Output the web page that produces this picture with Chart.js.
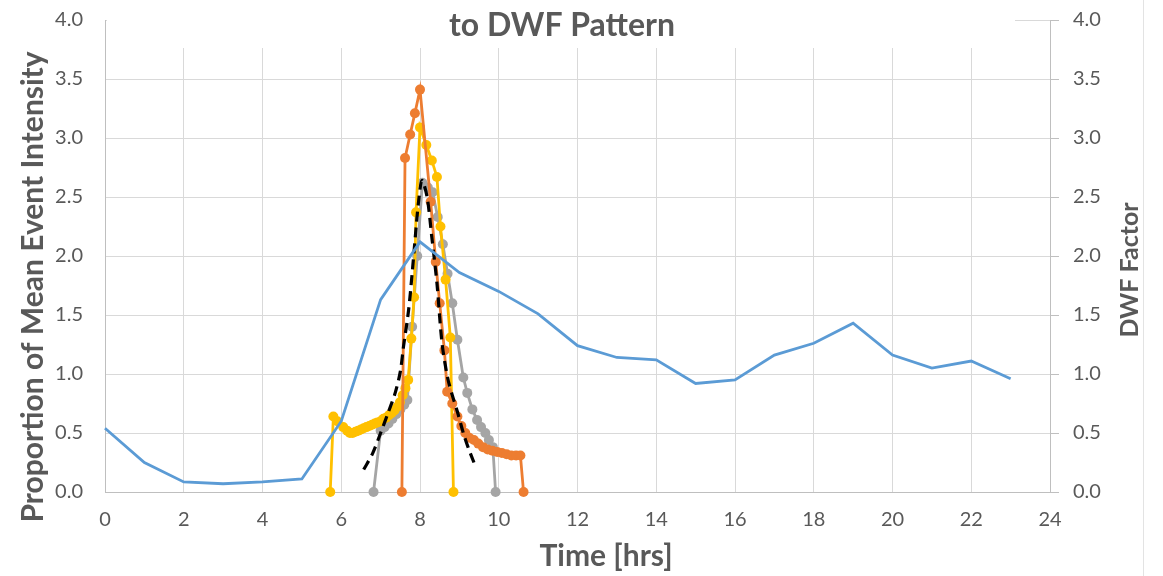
<!DOCTYPE html>
<html>
<head>
<meta charset="utf-8">
<script src="https://cdn.jsdelivr.net/npm/chart.js@4.4.1/dist/chart.umd.min.js"></script>
<style>
  html, body { margin: 0; padding: 0; background: #ffffff; }
  #wrap { width: 1163px; height: 576px; }
</style>
</head>
<body>
<div id="wrap"><canvas id="c" width="1163" height="576"></canvas></div>
<script>
// ---------- data ----------
const chartTitle = 'to DWF Pattern';
const xTitle = 'Time [hrs]';
const yLeftTitle = 'Proportion of Mean Event Intensity';
const yRightTitle = 'DWF Factor';

// DWF factor (right axis), hourly
const dwfHours  = [0, 1, 2, 3, 4, 5, 6, 7, 8, 9, 10, 11, 12, 13, 14, 15, 16, 17, 18, 19, 20, 21, 22, 23];
const dwfFactor = [0.54, 0.25, 0.085, 0.07, 0.085, 0.11, 0.60, 1.63, 2.12, 1.86, 1.70, 1.51, 1.24, 1.14, 1.12, 0.92, 0.95, 1.16, 1.26, 1.43, 1.16, 1.05, 1.11, 0.96];

// event 1 (orange)
const ev1Time  = [7.54, 7.62, 7.75, 7.87, 8.00, 8.27, 8.40, 8.50, 8.62, 8.69, 8.82, 8.95, 9.05, 9.15, 9.25, 9.37, 9.48, 9.60, 9.72, 9.84, 9.96, 10.08, 10.20, 10.32, 10.44, 10.55, 10.63];
const ev1Value = [0.00, 2.83, 3.03, 3.21, 3.41, 2.46, 1.95, 1.60, 1.20, 0.85, 0.75, 0.64, 0.56, 0.50, 0.46, 0.44, 0.41, 0.38, 0.36, 0.35, 0.34, 0.33, 0.32, 0.31, 0.31, 0.31, 0.00];

// event 2 (yellow)
const ev2Time  = [5.72, 5.80, 5.90, 6.05, 6.15, 6.22, 6.29, 6.36, 6.43, 6.50, 6.57, 6.64, 6.71, 6.78, 6.85, 6.92, 7.00, 7.07, 7.14, 7.21, 7.28, 7.35, 7.42, 7.49, 7.56, 7.63, 7.70, 7.78, 7.85, 7.90, 8.00, 8.16, 8.30, 8.43, 8.52, 8.65, 8.77, 8.85];
const ev2Value = [0.00, 0.64, 0.60, 0.55, 0.52, 0.50, 0.50, 0.51, 0.52, 0.53, 0.54, 0.55, 0.56, 0.57, 0.58, 0.59, 0.60, 0.62, 0.63, 0.65, 0.67, 0.69, 0.72, 0.76, 0.82, 0.88, 0.95, 1.30, 1.65, 2.37, 3.09, 2.94, 2.81, 2.67, 2.25, 1.80, 1.31, 0.00];

// event 3 (grey)
const ev3Time  = [6.82, 7.00, 7.10, 7.20, 7.30, 7.40, 7.50, 7.60, 7.68, 7.80, 7.93, 8.06, 8.20, 8.32, 8.45, 8.58, 8.70, 8.82, 8.95, 9.10, 9.20, 9.33, 9.45, 9.55, 9.66, 9.75, 9.85, 9.92];
const ev3Value = [0.00, 0.52, 0.55, 0.58, 0.62, 0.66, 0.70, 0.74, 0.78, 1.40, 2.00, 2.62, 2.58, 2.54, 2.33, 2.10, 1.85, 1.60, 1.29, 0.97, 0.84, 0.70, 0.61, 0.55, 0.50, 0.44, 0.38, 0.00];

// fitted profile (dashed)
const fitTime  = [6.57, 6.80, 7.00, 7.20, 7.37, 7.50, 7.58, 7.71, 7.80, 7.88, 7.96, 8.05, 8.18, 8.30, 8.43, 8.56, 8.70, 8.82, 8.95, 9.10, 9.22, 9.37];
const fitValue = [0.19, 0.33, 0.50, 0.68, 0.84, 1.02, 1.23, 1.54, 1.85, 2.16, 2.45, 2.64, 2.50, 2.16, 1.77, 1.26, 0.97, 0.82, 0.68, 0.50, 0.38, 0.25];

// axes
const xTicks = [0, 2, 4, 6, 8, 10, 12, 14, 16, 18, 20, 22, 24];
const yTicks = [0.0, 0.5, 1.0, 1.5, 2.0, 2.5, 3.0, 3.5, 4.0];

// ---------- chart ----------
const pts = (ts, vs) => ts.map((t, i) => ({ x: t, y: vs[i] }));
const TEXT = '#595959';
const GRID = '#D9D9D9';
const AXIS = '#BFBFBF';

const decorations = {
  id: 'decorations',
  beforeDraw(chart) {
    const ctx = chart.ctx;
    ctx.save();
    ctx.fillStyle = '#ffffff';
    ctx.fillRect(0, 0, chart.width, chart.height);
    ctx.restore();
  },
  beforeDatasetsDraw(chart) {
    const ctx = chart.ctx;
    ctx.save();
    // title box (covers top gridline, as in the original)
    ctx.fillStyle = '#ffffff';
    ctx.fillRect(107, 0, 1015 - 107, 48);
    ctx.fillStyle = TEXT;
    ctx.font = 'bold 32px Lato';
    ctx.textAlign = 'center';
    ctx.textBaseline = 'alphabetic';
    ctx.fillText(chartTitle, 562, 36);
    ctx.restore();
  },
  afterDraw(chart) {
    const ctx = chart.ctx;
    ctx.save();
    ctx.fillStyle = TEXT;
    ctx.font = 'bold 30px Lato';
    ctx.textAlign = 'center';
    ctx.textBaseline = 'alphabetic';
    ctx.fillText(xTitle, 606, 566);

    ctx.save();
    ctx.translate(43, 287);
    ctx.rotate(-Math.PI / 2);
    ctx.fillText(yLeftTitle, 0, 0);
    ctx.restore();

    ctx.save();
    ctx.font = 'bold 25px Lato';
    ctx.translate(1138, 270);
    ctx.rotate(-Math.PI / 2);
    ctx.fillText(yRightTitle, 0, 0);
    ctx.restore();

    // outer chart border on the right
    ctx.strokeStyle = '#E3E3E3';
    ctx.lineWidth = 1;
    ctx.beginPath();
    ctx.moveTo(1143.5, 0);
    ctx.lineTo(1143.5, 576);
    ctx.stroke();
    ctx.restore();
  }
};

const markerSeries = (label, ts, vs, color) => ({
  label,
  data: pts(ts, vs),
  yAxisID: 'y',
  showLine: true,
  borderColor: color,
  backgroundColor: color,
  borderWidth: 2.8,
  pointRadius: 5,
  pointBorderWidth: 0,
  pointBackgroundColor: color,
  tension: 0,
  clip: false
});

new Chart(document.getElementById('c'), {
  type: 'scatter',
  data: {
    datasets: [
      {
        label: 'DWF Factor',
        data: pts(dwfHours, dwfFactor),
        yAxisID: 'y2',
        showLine: true,
        borderColor: '#5B9BD5',
        backgroundColor: '#5B9BD5',
        borderWidth: 2.8,
        pointRadius: 0,
        tension: 0,
        clip: false
      },
      {
        label: 'Fitted profile',
        data: pts(fitTime, fitValue),
        yAxisID: 'y',
        showLine: true,
        borderColor: '#000000',
        borderDash: [10, 6],
        borderWidth: 3.2,
        pointRadius: 0,
        tension: 0.3,
        clip: false
      },
      markerSeries('Event 1', ev1Time, ev1Value, '#ED7D31'),
      markerSeries('Event 2', ev2Time, ev2Value, '#FFC000'),
      markerSeries('Event 3', ev3Time, ev3Value, '#A5A5A5')
    ]
  },
  options: {
    responsive: false,
    animation: false,
    layout: { padding: { left: 0, right: 0, top: 20, bottom: 0 } },
    plugins: {
      legend: { display: false },
      tooltip: { enabled: false },
      title: { display: false }
    },
    scales: {
      x: {
        type: 'linear',
        position: 'bottom',
        min: 0, max: 24,
        afterBuildTicks: (s) => { s.ticks = xTicks.map(v => ({ value: v })); },
        afterFit: (s) => { s.height = 84; },
        grid: { color: GRID, lineWidth: 1, drawTicks: false },
        border: { display: true, color: AXIS, width: 1 },
        ticks: { color: TEXT, font: { family: 'Lato', size: 20 }, padding: 16, maxRotation: 0, autoSkip: false,
                 callback: (v) => String(v) }
      },
      y: {
        type: 'linear',
        position: 'left',
        min: 0, max: 4,
        afterBuildTicks: (s) => { s.ticks = yTicks.map(v => ({ value: v })); },
        afterFit: (s) => { s.width = 105; },
        grid: { color: GRID, lineWidth: 1, drawTicks: true, tickLength: 22, tickColor: 'rgba(0,0,0,0)' },
        border: { display: true, color: AXIS, width: 1 },
        ticks: { color: TEXT, font: { family: 'Lato', size: 20 }, padding: 0,
                 callback: (v) => Number(v).toFixed(1) }
      },
      y2: {
        type: 'linear',
        position: 'right',
        min: 0, max: 4,
        afterBuildTicks: (s) => { s.ticks = yTicks.map(v => ({ value: v })); },
        afterFit: (s) => { s.width = 113; },
        grid: { drawOnChartArea: false, drawTicks: true, tickLength: 23, color: AXIS, tickColor: AXIS,
                lineWidth: 1, tickBorderDash: [8, 40], tickBorderDashOffset: 0 },
        border: { display: true, color: AXIS, width: 1 },
        ticks: { color: TEXT, font: { family: 'Lato', size: 20 }, padding: 0,
                 callback: (v) => Number(v).toFixed(1) }
      }
    }
  },
  plugins: [decorations]
});
</script>
</body>
</html>
